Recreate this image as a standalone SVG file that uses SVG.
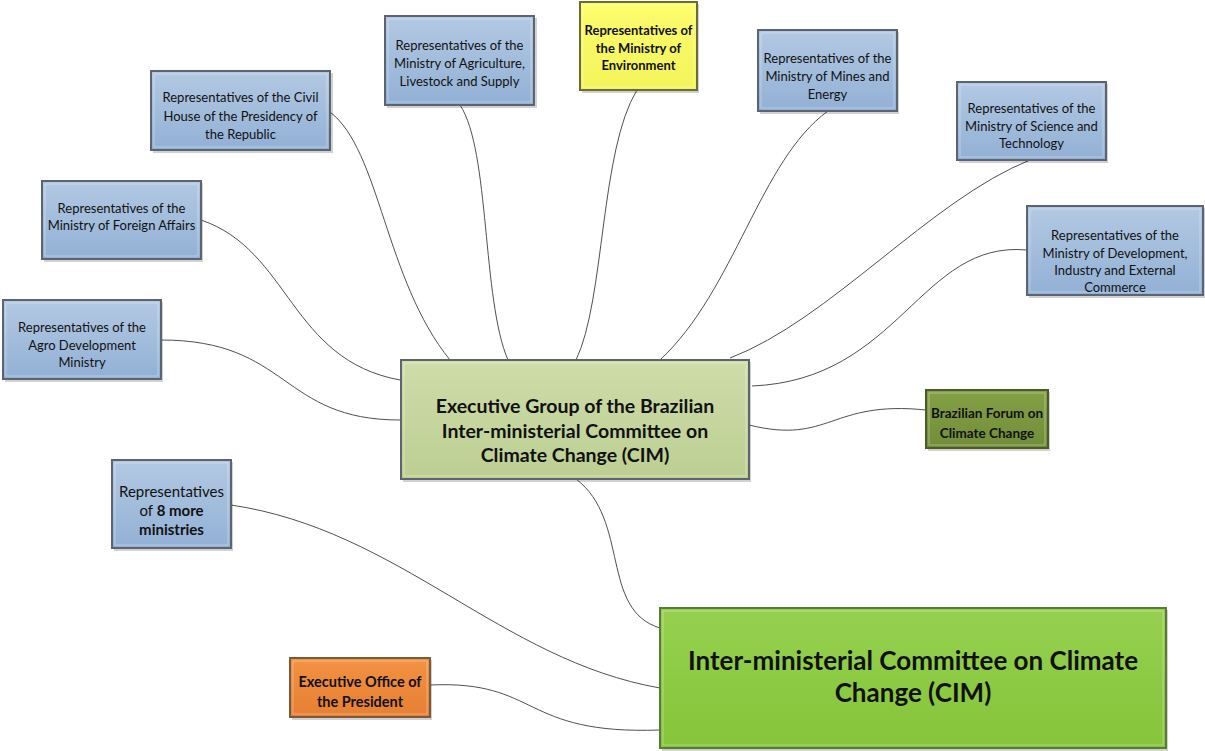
<svg xmlns="http://www.w3.org/2000/svg" width="1205" height="751" viewBox="0 0 1205 751">
<defs>
<linearGradient id="gBlue" x1="0" y1="0" x2="0" y2="1"><stop offset="0" stop-color="#b3c9e3"/><stop offset="1" stop-color="#92b0d5"/></linearGradient>
<linearGradient id="gExec" x1="0" y1="0" x2="0" y2="1"><stop offset="0" stop-color="#cfdcaa"/><stop offset="1" stop-color="#bccf92"/></linearGradient>
<linearGradient id="gCim" x1="0" y1="0" x2="0" y2="1"><stop offset="0" stop-color="#95d14f"/><stop offset="1" stop-color="#86c43a"/></linearGradient>
<linearGradient id="gForum" x1="0" y1="0" x2="0" y2="1"><stop offset="0" stop-color="#84a046"/><stop offset="1" stop-color="#728d38"/></linearGradient>
<linearGradient id="gOrange" x1="0" y1="0" x2="0" y2="1"><stop offset="0" stop-color="#f29243"/><stop offset="1" stop-color="#e67f31"/></linearGradient>
<linearGradient id="gYellow" x1="0" y1="0" x2="0" y2="1"><stop offset="0" stop-color="#fdfd6e"/><stop offset="1" stop-color="#f3f35a"/></linearGradient>
</defs>
<style>
.conn path{fill:none;stroke:#505050;stroke-width:1}
.box{stroke:#5c6470;stroke-width:2}
.inner{fill:none;stroke:#ffffff;stroke-opacity:0.35;stroke-width:1}
.shadow{fill:#000;fill-opacity:0.18}
text{font-family:Lato,"Open Sans","Liberation Sans",sans-serif;fill:#111111;text-anchor:middle}
.sm{font-size:13px}
.b{font-weight:bold}
</style>
<rect width="1205" height="751" fill="#ffffff"/>
<g class="conn" id="connectors">
<path d="M330,112 C380,150 385,280 450,360"/>
<path d="M460,105 C490,150 482,300 508,360"/>
<path d="M637,90 C600,150 605,300 576,360"/>
<path d="M828,111 C760,160 735,290 660,360"/>
<path d="M1030,160 C930,200 830,320 730,358"/>
<path d="M1027,250 C920,240 900,380 752,386"/>
<path d="M201,220 C290,250 290,360 400,380"/>
<path d="M161,340 C290,340 280,420 400,420"/>
<path d="M749,425 C830,445 830,400 926,410"/>
<path d="M576,479 C630,520 600,610 660,628"/>
<path d="M231,505 C400,530 500,660 660,688"/>
<path d="M430,685 C540,680 520,735 660,730"/>
</g>
<g id="civil">
<rect class="shadow" x="153" y="73" width="180" height="80"/>
<rect class="box" x="151" y="71" width="179" height="79" fill="url(#gBlue)"/>
<rect class="inner" x="154" y="74" width="173" height="73"/>
<text class="sm" x="240.5" y="102">Representatives of the Civil</text>
<text class="sm" x="240.5" y="121">House of the Presidency of</text>
<text class="sm" x="240.5" y="139">the Republic</text>
</g>
<g id="agriculture">
<rect class="shadow" x="387" y="18" width="150" height="90"/>
<rect class="box" x="385" y="16" width="149" height="89" fill="url(#gBlue)"/>
<rect class="inner" x="388" y="19" width="143" height="83"/>
<text class="sm" x="459.5" y="50">Representatives of the</text>
<text class="sm" x="459.5" y="68">Ministry of Agriculture,</text>
<text class="sm" x="459.5" y="86">Livestock and Supply</text>
</g>
<g id="environment">
<rect class="shadow" x="582" y="4" width="117" height="89"/>
<rect x="580" y="2" width="117" height="88" fill="url(#gYellow)" stroke="#6b6b3a" stroke-width="2"/>
<rect class="inner" x="583" y="5" width="111" height="82"/>
<text class="sm b" x="638.5" y="35">Representatives of</text>
<text class="sm b" x="638.5" y="53">the Ministry of</text>
<text class="sm b" x="638.5" y="70">Environment</text>
</g>
<g id="mines">
<rect class="shadow" x="760" y="32" width="139" height="82"/>
<rect class="box" x="758" y="30" width="139" height="81" fill="url(#gBlue)"/>
<rect class="inner" x="761" y="33" width="133" height="75"/>
<text class="sm" x="827.5" y="63">Representatives of the</text>
<text class="sm" x="827.5" y="81">Ministry of Mines and</text>
<text class="sm" x="827.5" y="99">Energy</text>
</g>
<g id="science">
<rect class="shadow" x="959" y="84" width="149" height="79"/>
<rect class="box" x="957" y="82" width="149" height="78" fill="url(#gBlue)"/>
<rect class="inner" x="960" y="85" width="143" height="72"/>
<text class="sm" x="1031.5" y="113">Representatives of the</text>
<text class="sm" x="1031.5" y="131">Ministry of Science and</text>
<text class="sm" x="1031.5" y="148">Technology</text>
</g>
<g id="development">
<rect class="shadow" x="1029" y="208" width="176" height="90"/>
<rect class="box" x="1027" y="206" width="176" height="89" fill="url(#gBlue)"/>
<rect class="inner" x="1030" y="209" width="170" height="83"/>
<text class="sm" x="1115" y="240">Representatives of the</text>
<text class="sm" x="1115" y="258">Ministry of Development,</text>
<text class="sm" x="1115" y="275">Industry and External</text>
<text class="sm" x="1115" y="292">Commerce</text>
</g>
<g id="foreign">
<rect class="shadow" x="44" y="183" width="159" height="79"/>
<rect class="box" x="42" y="181" width="159" height="78" fill="url(#gBlue)"/>
<rect class="inner" x="45" y="184" width="153" height="72"/>
<text class="sm" x="121.5" y="213">Representatives of the</text>
<text class="sm" x="121.5" y="230">Ministry of Foreign Affairs</text>
</g>
<g id="agro">
<rect class="shadow" x="5" y="302" width="158" height="80"/>
<rect class="box" x="3" y="300" width="158" height="79" fill="url(#gBlue)"/>
<rect class="inner" x="6" y="303" width="152" height="73"/>
<text class="sm" x="82" y="332">Representatives of the</text>
<text class="sm" x="82" y="350">Agro Development</text>
<text class="sm" x="82" y="367">Ministry</text>
</g>
<g id="execgroup">
<rect class="shadow" x="403" y="362" width="348" height="120"/>
<rect class="box" x="401" y="360" width="348" height="119" fill="url(#gExec)"/>
<rect class="inner" x="404" y="363" width="342" height="113"/>
<text class="b" font-size="19.5" x="575" y="413">Executive Group of the Brazilian</text>
<text class="b" font-size="19.5" x="575" y="438">Inter-ministerial Committee on</text>
<text class="b" font-size="19.5" x="575" y="462">Climate Change (CIM)</text>
</g>
<g id="forum">
<rect class="shadow" x="928" y="392" width="122" height="59"/>
<rect x="926" y="390" width="122" height="58" fill="url(#gForum)" stroke="#4a5a2a" stroke-width="2"/>
<rect class="inner" x="929" y="393" width="116" height="52"/>
<text class="b" font-size="13.5" x="987" y="418">Brazilian Forum on</text>
<text class="b" font-size="13.5" x="987" y="438">Climate Change</text>
</g>
<g id="moreministries">
<rect class="shadow" x="114" y="462" width="119" height="89"/>
<rect class="box" x="112" y="460" width="119" height="88" fill="url(#gBlue)"/>
<rect class="inner" x="115" y="463" width="113" height="82"/>
<text font-size="15" x="171.5" y="497">Representatives</text>
<text font-size="15" x="171.5" y="516">of <tspan font-weight="bold">8 more</tspan></text>
<text class="b" font-size="15" x="171.5" y="535">ministries</text>
</g>
<g id="execoffice">
<rect class="shadow" x="292" y="660" width="140" height="60"/>
<rect x="290" y="658" width="140" height="59" fill="url(#gOrange)" stroke="#7a5a3a" stroke-width="2"/>
<rect class="inner" x="293" y="661" width="134" height="53"/>
<text class="b" font-size="14.5" x="360" y="687">Executive Office of</text>
<text class="b" font-size="14.5" x="360" y="707">the President</text>
</g>
<g id="cim">
<rect class="shadow" x="662" y="610" width="506" height="141"/>
<rect x="660" y="608" width="506" height="140" fill="url(#gCim)" stroke="#5a7a3a" stroke-width="2"/>
<rect class="inner" x="663" y="611" width="500" height="134"/>
<text class="b" font-size="26" x="913" y="670">Inter-ministerial Committee on Climate</text>
<text class="b" font-size="26" x="913" y="702">Change (CIM)</text>
</g>
</svg>
